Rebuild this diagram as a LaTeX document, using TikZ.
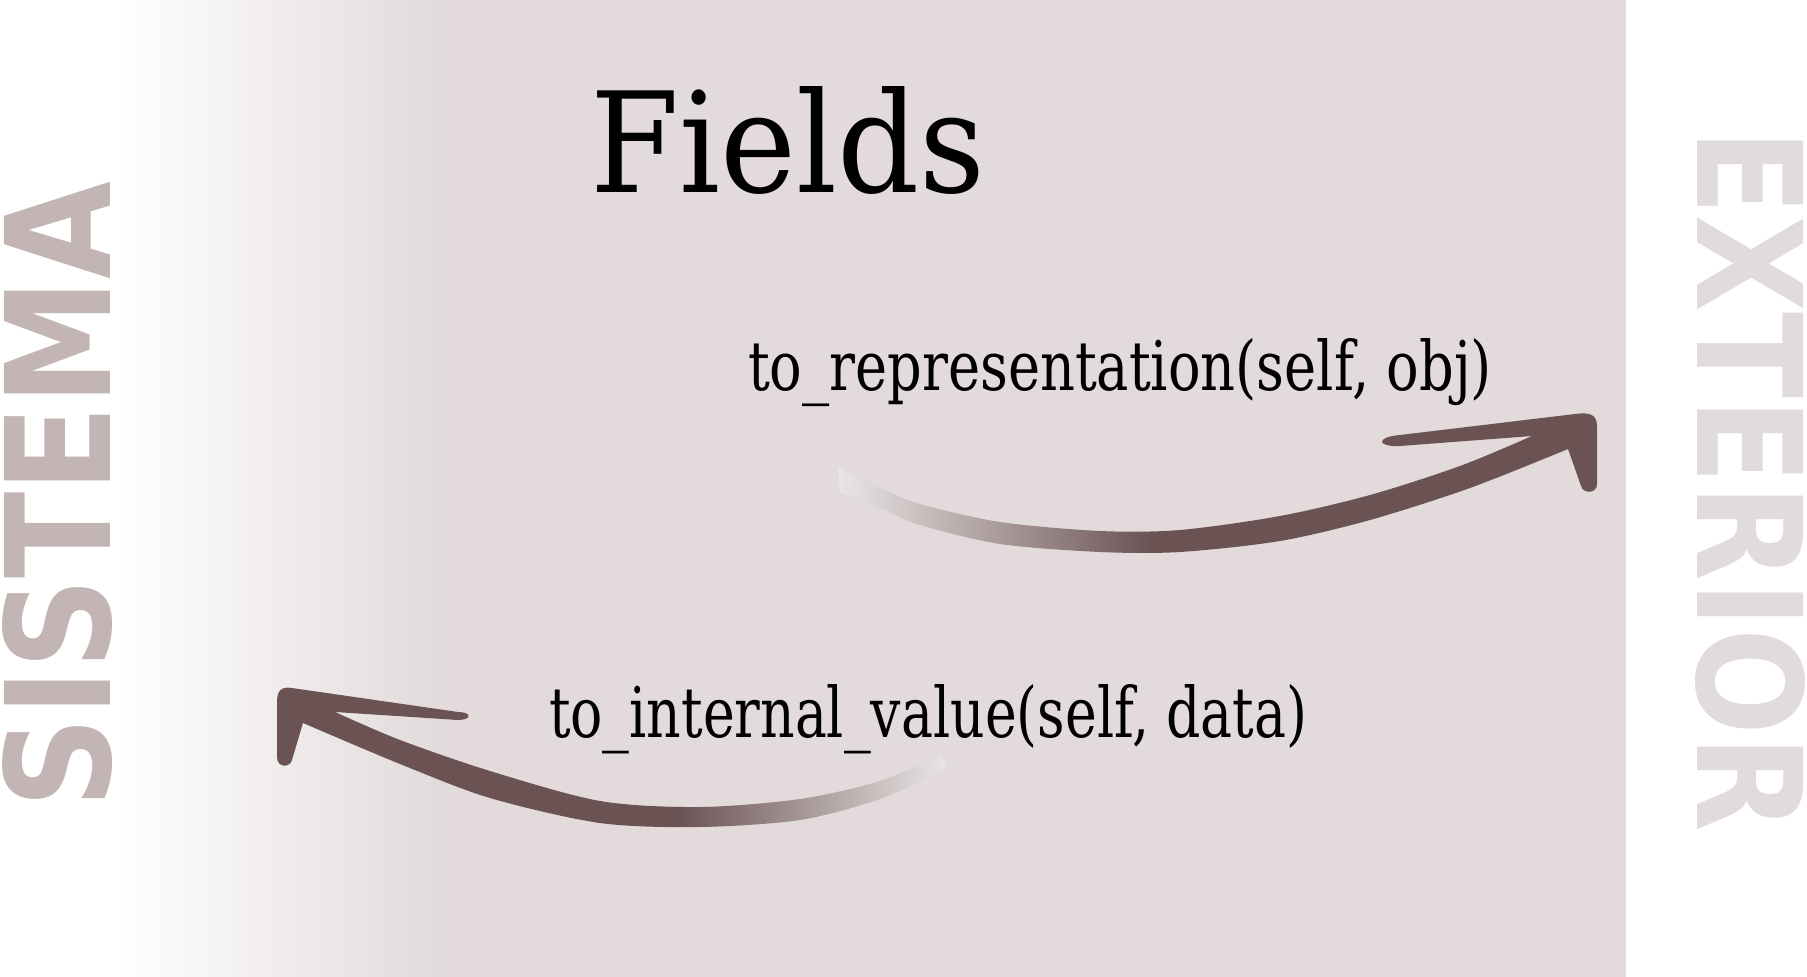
\documentclass[tikz,border=0pt]{standalone}
\usepackage{fontspec}
\usepackage{graphicx}
\setmainfont{DejaVu Serif}
\newfontfamily\sidefont{DejaVu Sans}
\definecolor{panel}{HTML}{E2DADB}
\definecolor{arrowcol}{HTML}{6B5354}
\definecolor{tailcol}{HTML}{EEEAEA}
\definecolor{sistemacol}{HTML}{C4B5B5}
\definecolor{exteriorcol}{HTML}{E2DBDC}
\tikzset{
  lbl/.style={anchor=base west, inner sep=0pt, outer sep=0pt, text=black},
  side/.style={anchor=base west, inner sep=0pt, outer sep=0pt},
}
\begin{document}
\begin{tikzpicture}[x=0.5pt,y=-0.5pt]
\useasboundingbox (0,0) rectangle (1807,977);
% background
\fill[white] (0,0) rectangle (1807,977);
\fill[panel] (440,0) rectangle (1626,977);
\shade[left color=white, right color=panel] (115,0) rectangle (441,977);

% side labels
\node[side, rotate=90, text=sistemacol] (sistema) at (110,808)
  {\resizebox{313pt}{54pt}{\sidefont\bfseries SISTEMA}};
\node[side, rotate=-90, text=exteriorcol] (exterior) at (1697,130)
  {\resizebox{351pt}{54pt}{\sidefont\bfseries EXTERIOR}};

% title and labels
\node[lbl] (title) at (590,193) {\resizebox{197.5pt}{53pt}{Fields}};
\node[lbl] (torep) at (748,391) {\resizebox{372pt}{26pt}{to\_representation(self, obj)}};
\node[lbl] (toint) at (549,737) {\resizebox{379pt}{26.5pt}{to\_internal\_value(self, data)}};

% upper arrow (system -> exterior)
\coordinate (uptail) at (838,467);
\coordinate (uptip) at (1597,432);
\begin{scope}
\clip (uptail) -- plot[smooth] coordinates {(838,467) (880,488) (920,504) (1000,522) (1100,531) (1180,530) (1280,516) (1370,495) (1460,466) (1532,436)}
  -- (1400,446) .. controls (1376,447) and (1376,437) .. (1400,435)
  -- (1575,414) .. controls (1598,411) and (1597,420) .. (uptip)
  -- (1597,484) .. controls (1597,494) and (1583,494) .. (1581,486)
  -- (1568,449) -- plot[smooth] coordinates {(1568,449) (1470,488) (1370,520) (1280,541) (1180,552) (1100,552) (1000,544) (920,525) (880,508) (840,492)} -- cycle;
\fill[arrowcol] (1150,400) rectangle (1610,570);
\shade[left color=tailcol, right color=arrowcol] (830,400) rectangle (1151,570);
\end{scope}

% lower arrow (exterior -> system)
\coordinate (lowtail) at (942,755);
\coordinate (lowtip) at (277,702);
\begin{scope}
\clip (lowtail) -- plot[smooth] coordinates {(942,755) (880,781) (800,799) (700,807) (600,801) (490,771) (400,740) (335,712)}
  -- (458,720) .. controls (472,720) and (472,712) .. (458,712)
  -- (292,688) .. controls (280,686) and (277,692) .. (lowtip)
  -- (277,757) .. controls (277,768) and (290,768) .. (292,760)
  -- (303,723) -- plot[smooth] coordinates {(303,723) (400,764) (490,798) (600,823) (700,827) (800,820) (880,799) (946,769)} -- cycle;
\fill[arrowcol] (260,670) rectangle (680,840);
\shade[left color=arrowcol, right color=tailcol] (679,670) rectangle (955,840);
\end{scope}
\end{tikzpicture}
\end{document}
